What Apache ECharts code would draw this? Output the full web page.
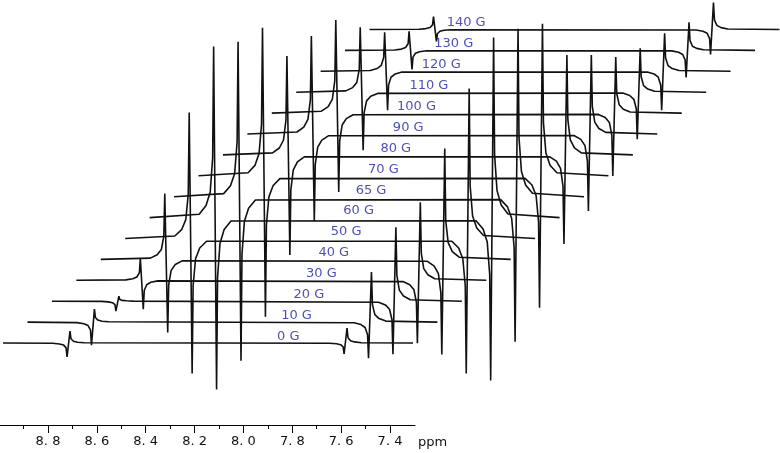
<!DOCTYPE html>
<html>
<head>
<meta charset="utf-8">
<script src="https://cdn.jsdelivr.net/npm/echarts@6/dist/echarts.min.js"></script>
<style>
html, body { margin: 0; background: #fff; }
#grid { width: 780px; height: 453px; }
</style>
</head>
<body>
<div id="grid"></div>
<script>
// gradient strength of each stacked trace (bottom to top)
const gradients = [0, 10, 20, 30, 40, 50, 60, 65, 70, 80, 90, 100, 110, 120, 130, 140];

// ppm positions sampled along one trace (two dispersive lines near 8.716 and 7.582)
const ppmPoints = [8.984, 8.781, 8.753, 8.736, 8.726, 8.722, 8.710, 8.706, 8.696, 8.679, 8.651,
                   7.647, 7.619, 7.602, 7.592, 7.588, 7.576, 7.572, 7.562, 7.545, 7.517, 7.306];

// intensity read at each of ppmPoints, one array per trace
const g0   = [0, -0.3, -1, -2.1, -4.9, -14, 12, 4.2, 1.8, 0.8, 0.2, -0.2, -0.8, -1.7, -3.9, -11, 15, 5.3, 2.3, 1.1, 0.3, 0];
const g10  = [0, -0.5, -1.6, -3.5, -8, -23, 13, 4.6, 2, 0.9, 0.3, -0.7, -2.5, -5.4, -12.6, -36, 50, 17.5, 7.5, 3.5, 1, 0];
const g20  = [0, -0.2, -0.7, -1.5, -3.5, -10, 5, 1.8, 0.8, 0.4, 0.1, -1.1, -3.7, -8, -18.6, -53, 74, 25.9, 11.1, 5.2, 1.5, 0];
const g30  = [0, 0.4, 1.5, 3.3, 7.7, 22, -29, -10.2, -4.4, -2, -0.6, -1.3, -4.4, -9.5, -22.1, -63, 78, 27.3, 11.7, 5.5, 1.6, 0];
const g40  = [0, 1.3, 4.6, 9.9, 23.1, 66, -73, -25.6, -11, -5.1, -1.5, -1.9, -6.7, -14.3, -33.3, -95, 111, 38.9, 16.7, 7.8, 2.2, 0];
const g50  = [0, 2.5, 8.8, 18.9, 44.1, 126, -135, -47.3, -20.3, -9.5, -2.7, -2.7, -9.5, -20.3, -47.3, -135, 150, 52.5, 22.5, 10.5, 3, 0];
const g60  = [0, 3.4, 12, 25.7, 59.9, 171, -172, -60.2, -25.8, -12, -3.4, -3.3, -11.4, -24.5, -57.1, -163, 180, 63, 27, 12.6, 3.6, 0];
const g65  = [0, 3.1, 10.9, 23.3, 54.3, 155, -164, -57.4, -24.6, -11.5, -3.3, -2.9, -10.2, -21.8, -50.8, -145, 168, 58.8, 25.2, 11.8, 3.4, 0];
const g70  = [0, 3, 10.4, 22.2, 51.8, 148, -141, -49.4, -21.2, -9.9, -2.8, -2.6, -9.2, -19.8, -46.2, -132, 152, 53.2, 22.8, 10.6, 3, 0];
const g80  = [0, 2, 6.9, 14.9, 34.7, 99, -100, -35, -15, -7, -2, -1.8, -6.2, -13.4, -31.2, -89, 100, 35, 15, 7, 2, 0];
const g90  = [0, 2, 6.9, 14.7, 34.3, 98, -87, -30.5, -13.1, -6.1, -1.7, -1.5, -5.4, -11.6, -27, -77, 79, 27.7, 11.9, 5.5, 1.6, 0];
const g100 = [0, 1.9, 6.5, 14, 32.6, 93, -79, -27.7, -11.9, -5.5, -1.6, -1.3, -4.4, -9.5, -22.1, -63, 56, 19.6, 8.4, 3.9, 1.1, 0];
const g110 = [0, 1.3, 4.6, 9.8, 22.8, 65, -58, -20.3, -8.7, -4.1, -1.2, -0.9, -3.3, -7.1, -16.5, -47, 44, 15.4, 6.6, 3.1, 0.9, 0];
const g120 = [0, 0.8, 2.7, 5.9, 13.7, 39, -39, -13.7, -5.9, -2.7, -0.8, -0.8, -2.7, -5.9, -13.7, -39, 38, 13.3, 5.7, 2.7, 0.8, 0];
const g130 = [0, 0.4, 1.3, 2.9, 6.7, 19, -19, -6.7, -2.9, -1.3, -0.4, -0.5, -1.9, -4.1, -9.5, -27, 28, 9.8, 4.2, 2, 0.6, 0];
const g140 = [0, 0.3, 0.9, 2, 4.6, 13, -12, -4.2, -1.8, -0.8, -0.2, -0.5, -1.8, -3.8, -8.8, -25, 27, 9.5, 4.1, 1.9, 0.5, 0];

const spectra = [g0, g10, g20, g30, g40, g50, g60, g65, g70, g80, g90, g100, g110, g120, g130, g140];

// ppm axis ticks
const majorTicks = [8.8, 8.6, 8.4, 8.2, 8.0, 7.8, 7.6, 7.4];
const minorTicks = [8.9, 8.7, 8.5, 8.3, 8.1, 7.9, 7.7, 7.5];

// stacking layout: each trace moves right by 0.1 ppm and up
const pxPerPpm = 244.3;
const ppmLeft = 8.9965;
const xStep = 0.1;
const yStep = 20.9;

let series = spectra.map(function (vals, i) {
    return {
        type: 'line',
        xAxisIndex: 2,
        yAxisIndex: 1,
        showSymbol: false,
        silent: true,
        lineStyle: { color: '#111', width: 1.6 },
        data: ppmPoints.map(function (p, k) {
            return [p - xStep * i, vals[k] + yStep * i];
        })
    };
});

series.push({
    type: 'scatter',
    xAxisIndex: 2,
    yAxisIndex: 1,
    symbolSize: 1,
    silent: true,
    itemStyle: { color: 'transparent' },
    label: {
        show: true,
        position: 'left',
        distance: 0,
        color: '#2222a6',
        fontFamily: 'DejaVu Sans',
        fontSize: 13,
        formatter: function (p) { return gradients[p.dataIndex] + ' G'; }
    },
    data: gradients.map(function (g, i) {
        return [7.7685 - 0.0508 * i, yStep * i + 6.5];
    })
});

option = {
    animation: false,
    backgroundColor: '#fff',
    grid: [
        { left: 0, top: 0, width: 415, height: 425 },
        { left: 0, top: 0, width: 780, height: 420 }
    ],
    xAxis: [{
        type: 'value',
        gridIndex: 0,
        inverse: true,
        min: ppmLeft - 415 / pxPerPpm,
        max: ppmLeft,
        position: 'bottom',
        splitLine: { show: false },
        axisLine: { lineStyle: { color: '#000', width: 1 } },
        axisTick: { customValues: majorTicks, length: 8, lineStyle: { color: '#000' } },
        axisLabel: {
            customValues: majorTicks,
            margin: 10,
            color: '#111',
            fontFamily: 'DejaVu Sans',
            fontSize: 13,
            formatter: function (v) { return v.toFixed(1).replace('.', '. '); }
        }
    }, {
        type: 'value',
        gridIndex: 0,
        inverse: true,
        min: ppmLeft - 415 / pxPerPpm,
        max: ppmLeft,
        position: 'bottom',
        splitLine: { show: false },
        axisLine: { show: false },
        axisTick: { customValues: minorTicks, length: 4, lineStyle: { color: '#000' } },
        axisLabel: { show: false }
    }, {
        type: 'value',
        gridIndex: 1,
        inverse: true,
        min: ppmLeft - 780 / pxPerPpm,
        max: ppmLeft,
        show: false
    }],
    yAxis: [{
        type: 'value',
        gridIndex: 0,
        min: 0,
        max: 1,
        show: false
    }, {
        type: 'value',
        gridIndex: 1,
        min: -77,
        max: 343,
        show: false
    }],
    graphic: [{
        type: 'text',
        left: 418,
        top: 436,
        style: { text: 'ppm', fill: '#111', font: '13px "DejaVu Sans"' }
    }],
    series: series
};

let myChart = echarts.init(document.getElementById('grid'));
myChart.setOption(option);
</script>
</body>
</html>
